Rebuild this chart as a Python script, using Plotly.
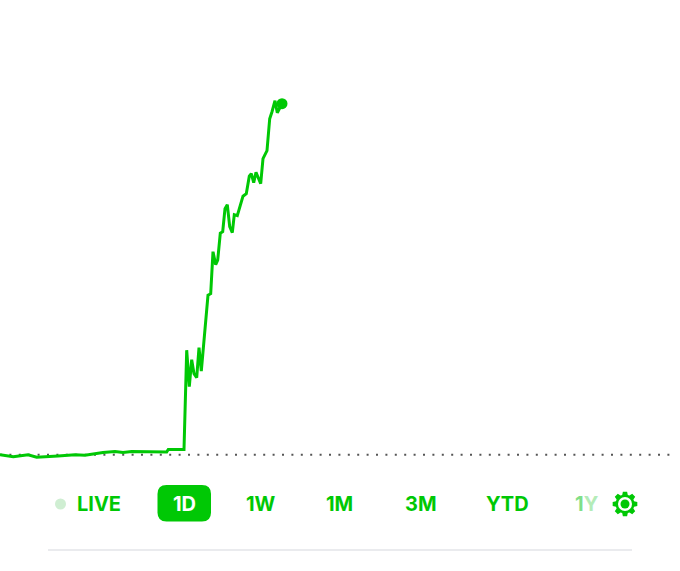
import math
import plotly.graph_objects as go

WIDTH = 680
HEIGHT = 571
GREEN = '#00c805'

# session time (arbitrary units along the day) and price above previous close
times = [0, 13.3, 28, 36.7, 58, 75, 85, 103, 115, 123, 131.7, 166.7, 168.3, 184,
         186.7, 189.3, 191.7, 194, 196.7, 199, 201.3, 206, 208, 210.7, 213,
         215.7, 217.7, 220.3, 222.7, 225, 227.3, 229.7, 232.3, 234.3, 237.3,
         243, 246.3, 249.3, 251.3, 253.7, 256, 260.7, 263, 267, 269.7, 272,
         275, 277.3, 282]
prices = [0, -2, 0, -2.5, -1.2, 0, -0.5, 2.2, 3.2, 2.2, 3.2, 2.8, 5.2, 5.2,
          104.5, 68, 95, 81, 77, 107, 83.5, 143, 159.5, 161, 203,
          190, 194.5, 221.5, 223, 246, 250, 228, 222, 240, 239,
          258.5, 261, 278.5, 281, 272, 282.5, 271, 296, 304, 336, 343,
          354, 342, 351]

range_labels = ['LIVE', '1D', '1W', '1M', '3M', 'YTD', '1<span style="color:#b4ecb8">Y</span>']
label_centers = [98.5, 184, 261, 339, 421, 507, 587]
label_colors = [GREEN, 'white', GREEN, GREEN, GREEN, GREEN, '#7fdf88']


def px(x):
    return x / WIDTH


def py(y):
    return 1 - y / HEIGHT


def rounded_rect(x0, y0, x1, y1, r):
    return (f'M {px(x0 + r)} {py(y0)} L {px(x1 - r)} {py(y0)} '
            f'Q {px(x1)} {py(y0)} {px(x1)} {py(y0 + r)} L {px(x1)} {py(y1 - r)} '
            f'Q {px(x1)} {py(y1)} {px(x1 - r)} {py(y1)} L {px(x0 + r)} {py(y1)} '
            f'Q {px(x0)} {py(y1)} {px(x0)} {py(y1 - r)} L {px(x0)} {py(y0 + r)} '
            f'Q {px(x0)} {py(y0)} {px(x0 + r)} {py(y0)} Z')


def gear(cx, cy, outer, inner, teeth=8):
    pts = []
    step = 2 * math.pi / teeth
    for i in range(teeth):
        a = i * step - math.pi / 2
        for da, r in [(-0.30, inner), (-0.17, outer), (0.17, outer), (0.30, inner)]:
            pts.append((cx + r * math.cos(a + da), cy + r * math.sin(a + da)))
    return 'M ' + ' L '.join(f'{px(x)} {py(y)}' for x, y in pts) + ' Z'


fig = go.Figure()

fig.add_trace(go.Scatter(
    x=times,
    y=prices,
    mode='lines',
    line=dict(color=GREEN, width=3),
    hoverinfo='skip'
))
fig.add_trace(go.Scatter(
    x=times[-1:],
    y=prices[-1:],
    mode='markers',
    marker=dict(color=GREEN, size=11),
    hoverinfo='skip'
))

# previous close
fig.add_shape(type='line', xref='x', yref='y', x0=0, x1=674, y0=0, y1=0,
              line=dict(color='#555555', width=2, dash='2px,7.4px'), layer='below')

# selected range pill
fig.add_shape(type='path', xref='paper', yref='paper', path=rounded_rect(157.5, 485, 211, 521.5, 9),
              fillcolor=GREEN, line_width=0, layer='below')

# live dot
fig.add_shape(type='circle', xref='paper', yref='paper',
              x0=px(55), x1=px(66), y0=py(509.5), y1=py(498.5),
              fillcolor='#cfeed2', line_width=0)

# settings gear
fig.add_shape(type='path', xref='paper', yref='paper', path=gear(625, 504, 12.5, 9.5),
              fillcolor=GREEN, line_width=0)
fig.add_shape(type='circle', xref='paper', yref='paper',
              x0=px(618), x1=px(632), y0=py(511), y1=py(497),
              fillcolor='white', line_width=0)
fig.add_shape(type='circle', xref='paper', yref='paper',
              x0=px(620.5), x1=px(629.5), y0=py(508.5), y1=py(499.5),
              fillcolor=GREEN, line_width=0)

# divider under the buttons
fig.add_shape(type='line', xref='paper', yref='paper',
              x0=px(48), x1=px(632), y0=py(550), y1=py(550),
              line=dict(color='#e3e5e9', width=1.5))

for label, center, color in zip(range_labels, label_centers, label_colors):
    fig.add_annotation(
        text=f'<b>{label}</b>',
        x=px(center), y=py(504),
        xref='paper', yref='paper',
        xanchor='center', yanchor='middle',
        showarrow=False,
        font=dict(family='Inter', size=20, color=color)
    )

fig.update_layout(
    width=WIDTH,
    height=HEIGHT,
    margin=dict(l=0, r=0, t=0, b=0),
    paper_bgcolor='white',
    plot_bgcolor='white',
    showlegend=False,
    xaxis=dict(range=[0, 680], visible=False, fixedrange=True),
    yaxis=dict(range=[-116.3, 454.7], visible=False, fixedrange=True)
)

fig.write_html('out.html', config=dict(displayModeBar=False),
               post_script="document.body.style.margin='0';document.body.style.overflow='hidden';")
